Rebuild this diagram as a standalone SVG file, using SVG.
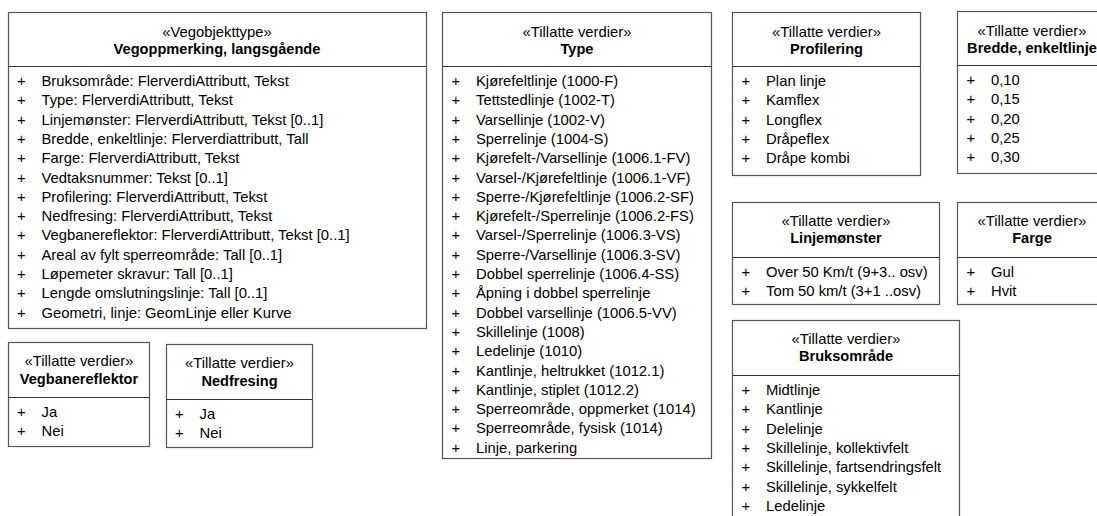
<svg xmlns="http://www.w3.org/2000/svg" width="1097" height="516" viewBox="0 0 1097 516">
<style>
  .box { fill: #ffffff; stroke: #555555; stroke-width: 1.2; }
  .div { stroke: #333333; stroke-width: 1.1; }
  text { font-family: "Liberation Sans", Arial, sans-serif; font-size: 14.8px; fill: #000000; }
  .st { text-anchor: middle; }
  .ti { text-anchor: middle; font-weight: bold; font-size: 14.6px; }
</style>
<rect x="0" y="0" width="1097" height="516" fill="#ffffff"/>
<g id="connectors"/>

<g id="vegoppmerking">
  <rect class="box" x="8.5" y="12.5" width="418" height="316"/>
  <line class="div" x1="8.5" y1="66.5" x2="426.5" y2="66.5"/>
  <text class="st" x="217" y="37">«Vegobjekttype»</text>
  <text class="ti" x="217" y="54">Vegoppmerking, langsgående</text>
  <g>
    <text x="17" y="86">+</text><text x="41.5" y="86">Bruksområde: FlerverdiAttributt, Tekst</text>
    <text x="17" y="105.3">+</text><text x="41.5" y="105.3">Type: FlerverdiAttributt, Tekst</text>
    <text x="17" y="124.6">+</text><text x="41.5" y="124.6">Linjemønster: FlerverdiAttributt, Tekst [0..1]</text>
    <text x="17" y="143.9">+</text><text x="41.5" y="143.9">Bredde, enkeltlinje: Flerverdiattributt, Tall</text>
    <text x="17" y="163.2">+</text><text x="41.5" y="163.2">Farge: FlerverdiAttributt, Tekst</text>
    <text x="17" y="182.5">+</text><text x="41.5" y="182.5">Vedtaksnummer: Tekst [0..1]</text>
    <text x="17" y="201.8">+</text><text x="41.5" y="201.8">Profilering: FlerverdiAttributt, Tekst</text>
    <text x="17" y="221.1">+</text><text x="41.5" y="221.1">Nedfresing: FlerverdiAttributt, Tekst</text>
    <text x="17" y="240.4">+</text><text x="41.5" y="240.4">Vegbanereflektor: FlerverdiAttributt, Tekst [0..1]</text>
    <text x="17" y="259.7">+</text><text x="41.5" y="259.7">Areal av fylt sperreområde: Tall [0..1]</text>
    <text x="17" y="279">+</text><text x="41.5" y="279">Løpemeter skravur: Tall [0..1]</text>
    <text x="17" y="298.3">+</text><text x="41.5" y="298.3">Lengde omslutningslinje: Tall [0..1]</text>
    <text x="17" y="317.6">+</text><text x="41.5" y="317.6">Geometri, linje: GeomLinje eller Kurve</text>
  </g>
</g>

<g id="type">
  <rect class="box" x="442.5" y="12.5" width="269" height="446"/>
  <line class="div" x1="442.5" y1="66.5" x2="711.5" y2="66.5"/>
  <text class="st" x="577" y="37">«Tillatte verdier»</text>
  <text class="ti" x="577" y="54">Type</text>
  <g>
    <text x="451.5" y="86">+</text><text x="476" y="86">Kjørefeltlinje (1000-F)</text>
    <text x="451.5" y="105.3">+</text><text x="476" y="105.3">Tettstedlinje (1002-T)</text>
    <text x="451.5" y="124.6">+</text><text x="476" y="124.6">Varsellinje (1002-V)</text>
    <text x="451.5" y="143.9">+</text><text x="476" y="143.9">Sperrelinje (1004-S)</text>
    <text x="451.5" y="163.2">+</text><text x="476" y="163.2">Kjørefelt-/Varsellinje (1006.1-FV)</text>
    <text x="451.5" y="182.5">+</text><text x="476" y="182.5">Varsel-/Kjørefeltlinje (1006.1-VF)</text>
    <text x="451.5" y="201.8">+</text><text x="476" y="201.8">Sperre-/Kjørefeltlinje (1006.2-SF)</text>
    <text x="451.5" y="221.1">+</text><text x="476" y="221.1">Kjørefelt-/Sperrelinje (1006.2-FS)</text>
    <text x="451.5" y="240.4">+</text><text x="476" y="240.4">Varsel-/Sperrelinje (1006.3-VS)</text>
    <text x="451.5" y="259.7">+</text><text x="476" y="259.7">Sperre-/Varsellinje (1006.3-SV)</text>
    <text x="451.5" y="279">+</text><text x="476" y="279">Dobbel sperrelinje (1006.4-SS)</text>
    <text x="451.5" y="298.3">+</text><text x="476" y="298.3">Åpning i dobbel sperrelinje</text>
    <text x="451.5" y="317.6">+</text><text x="476" y="317.6">Dobbel varsellinje (1006.5-VV)</text>
    <text x="451.5" y="336.9">+</text><text x="476" y="336.9">Skillelinje (1008)</text>
    <text x="451.5" y="356.2">+</text><text x="476" y="356.2">Ledelinje (1010)</text>
    <text x="451.5" y="375.5">+</text><text x="476" y="375.5">Kantlinje, heltrukket (1012.1)</text>
    <text x="451.5" y="394.8">+</text><text x="476" y="394.8">Kantlinje, stiplet (1012.2)</text>
    <text x="451.5" y="414.1">+</text><text x="476" y="414.1">Sperreområde, oppmerket (1014)</text>
    <text x="451.5" y="433.4">+</text><text x="476" y="433.4">Sperreområde, fysisk (1014)</text>
    <text x="451.5" y="452.7">+</text><text x="476" y="452.7">Linje, parkering</text>
  </g>
</g>

<g id="profilering">
  <rect class="box" x="732.5" y="12.5" width="188" height="163"/>
  <line class="div" x1="732.5" y1="66.5" x2="920.5" y2="66.5"/>
  <text class="st" x="826.5" y="37">«Tillatte verdier»</text>
  <text class="ti" x="826.5" y="54">Profilering</text>
  <text x="741.5" y="86">+</text><text x="766" y="86">Plan linje</text>
  <text x="741.5" y="105.3">+</text><text x="766" y="105.3">Kamflex</text>
  <text x="741.5" y="124.6">+</text><text x="766" y="124.6">Longflex</text>
  <text x="741.5" y="143.9">+</text><text x="766" y="143.9">Dråpeflex</text>
  <text x="741.5" y="163.2">+</text><text x="766" y="163.2">Dråpe kombi</text>
</g>

<g id="bredde">
  <rect class="box" x="957.5" y="11.5" width="150" height="162"/>
  <line class="div" x1="957.5" y1="65.5" x2="1107.5" y2="65.5"/>
  <text class="st" x="1032" y="36">«Tillatte verdier»</text>
  <text class="ti" x="1032" y="53">Bredde, enkeltlinje</text>
  <text x="966.5" y="85">+</text><text x="991" y="85">0,10</text>
  <text x="966.5" y="104.3">+</text><text x="991" y="104.3">0,15</text>
  <text x="966.5" y="123.6">+</text><text x="991" y="123.6">0,20</text>
  <text x="966.5" y="142.9">+</text><text x="991" y="142.9">0,25</text>
  <text x="966.5" y="162.2">+</text><text x="991" y="162.2">0,30</text>
</g>

<g id="linjemonster">
  <rect class="box" x="732.5" y="202.5" width="207" height="102"/>
  <line class="div" x1="732.5" y1="257.5" x2="939.5" y2="257.5"/>
  <text class="st" x="836" y="226">«Tillatte verdier»</text>
  <text class="ti" x="836" y="243">Linjemønster</text>
  <text x="741.5" y="277">+</text><text x="766" y="277">Over 50 Km/t (9+3.. osv)</text>
  <text x="741.5" y="296.3">+</text><text x="766" y="296.3">Tom 50 km/t (3+1 ..osv)</text>
</g>

<g id="farge">
  <rect class="box" x="957.5" y="202.5" width="150" height="102"/>
  <line class="div" x1="957.5" y1="257.5" x2="1107.5" y2="257.5"/>
  <text class="st" x="1032" y="226">«Tillatte verdier»</text>
  <text class="ti" x="1032" y="243">Farge</text>
  <text x="966.5" y="277">+</text><text x="991" y="277">Gul</text>
  <text x="966.5" y="296.3">+</text><text x="991" y="296.3">Hvit</text>
</g>

<g id="bruksomrade">
  <rect class="box" x="732.5" y="320.5" width="227" height="210"/>
  <line class="div" x1="732.5" y1="375.5" x2="959.5" y2="375.5"/>
  <text class="st" x="846" y="344">«Tillatte verdier»</text>
  <text class="ti" x="846" y="361">Bruksområde</text>
  <text x="741.5" y="395">+</text><text x="766" y="395">Midtlinje</text>
  <text x="741.5" y="414.3">+</text><text x="766" y="414.3">Kantlinje</text>
  <text x="741.5" y="433.6">+</text><text x="766" y="433.6">Delelinje</text>
  <text x="741.5" y="452.9">+</text><text x="766" y="452.9">Skillelinje, kollektivfelt</text>
  <text x="741.5" y="472.2">+</text><text x="766" y="472.2">Skillelinje, fartsendringsfelt</text>
  <text x="741.5" y="491.5">+</text><text x="766" y="491.5">Skillelinje, sykkelfelt</text>
  <text x="741.5" y="510.8">+</text><text x="766" y="510.8">Ledelinje</text>
</g>

<g id="vegbanereflektor">
  <rect class="box" x="8.5" y="342.5" width="141" height="104"/>
  <line class="div" x1="8.5" y1="397.5" x2="149.5" y2="397.5"/>
  <text class="st" x="79" y="366">«Tillatte verdier»</text>
  <text class="ti" x="79" y="384">Vegbanereflektor</text>
  <text x="17" y="417">+</text><text x="41.5" y="417">Ja</text>
  <text x="17" y="436.3">+</text><text x="41.5" y="436.3">Nei</text>
</g>

<g id="nedfresing">
  <rect class="box" x="166.5" y="344.5" width="146" height="103"/>
  <line class="div" x1="166.5" y1="399.5" x2="312.5" y2="399.5"/>
  <text class="st" x="239.5" y="368">«Tillatte verdier»</text>
  <text class="ti" x="239.5" y="386">Nedfresing</text>
  <text x="175" y="419">+</text><text x="199.5" y="419">Ja</text>
  <text x="175" y="438.3">+</text><text x="199.5" y="438.3">Nei</text>
</g>
</svg>
